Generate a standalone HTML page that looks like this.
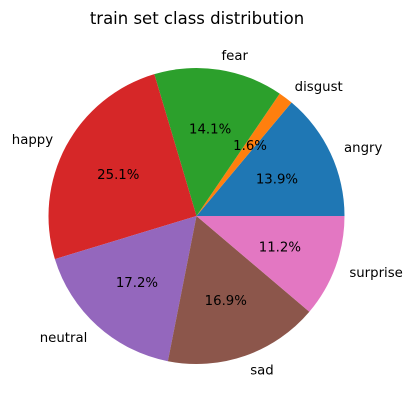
<!DOCTYPE html>
<html><head><meta charset="utf-8"><style>
body{margin:0;background:#fff}
svg text{font-family:"DejaVu Sans","Liberation Sans",sans-serif;}
</style></head><body>
<svg id="chart" width="415" height="411" xmlns="http://www.w3.org/2000/svg">
<text x="197" y="24" text-anchor="middle" font-size="16.5">train set class distribution</text>
<g id="slices"></g>
<g id="labels"></g>
</svg>
<script>
const categories = ["angry","disgust","fear","happy","neutral","sad","surprise"];
const values = [13.9,1.6,14.1,25.1,17.2,16.9,11.2];
const colors = ["#1f77b4","#ff7f0e","#2ca02c","#d62728","#9467bd","#8c564b","#e377c2"];
const cx=196.5, cy=216, r=148;
const g=document.getElementById('slices');
const lg=document.getElementById('labels');
const NS="http://www.w3.org/2000/svg";
const total=values.reduce((a,b)=>a+b,0);
let start=0;
values.forEach((v,i)=>{
  const sweep=v/total*2*Math.PI, end=start+sweep, mid=start+sweep/2;
  const x1=cx+r*Math.cos(start), y1=cy-r*Math.sin(start);
  const x2=cx+r*Math.cos(end), y2=cy-r*Math.sin(end);
  const p=document.createElementNS(NS,'path');
  p.setAttribute('d',`M${cx},${cy} L${x1},${y1} A${r},${r} 0 ${sweep>Math.PI?1:0} 0 ${x2},${y2} Z`);
  p.setAttribute('fill',colors[i]);
  
  
  g.appendChild(p);
  const lx=cx+1.1*r*Math.cos(mid), ly=cy-1.1*r*Math.sin(mid);
  const t=document.createElementNS(NS,'text');
  t.setAttribute('x',lx);t.setAttribute('y',ly+5);
  t.setAttribute('font-size','13.3');
  t.setAttribute('text-anchor',Math.cos(mid)>=0?'start':'end');
  t.textContent=categories[i];
  
  
  lg.appendChild(t);
  const px=cx+0.6*r*Math.cos(mid), py=cy-0.6*r*Math.sin(mid);
  const q=document.createElementNS(NS,'text');
  q.setAttribute('x',px);q.setAttribute('y',py+5);
  q.setAttribute('font-size','13.3');
  q.setAttribute('text-anchor','middle');
  q.textContent=v.toFixed(1)+'%';
  
  
  lg.appendChild(q);
  start=end;
});
</script>
</body></html>
